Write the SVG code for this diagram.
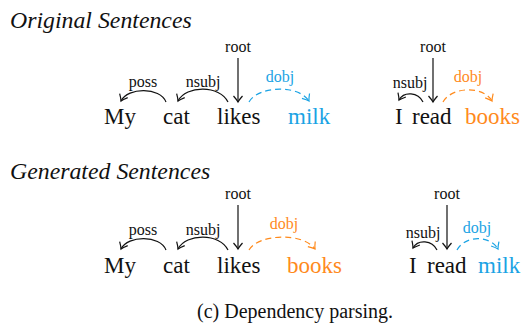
<svg xmlns="http://www.w3.org/2000/svg" width="522" height="327" viewBox="0 0 522 327" font-family="'Liberation Serif', 'DejaVu Serif', serif">
<style>
text{font-family:'Liberation Serif','DejaVu Serif',serif;}
.t{font-size:23.8px;font-style:italic;fill:#111}
.w{font-size:23px;fill:#111}
.l{font-size:16px;fill:#111;text-anchor:middle}
.cy{fill:#1aa3e4}
.or{fill:#ff8a1c}
.e{fill:none;stroke:#111;stroke-width:1.2}
.ec{fill:none;stroke:#1aa3e4;stroke-width:1.2;stroke-dasharray:6,4}
.eo{fill:none;stroke:#ff8a1c;stroke-width:1.2;stroke-dasharray:6,4}
</style>
<defs>
<marker id="ak" markerUnits="userSpaceOnUse" viewBox="-8 -6 10 12" refX="0" refY="0" markerWidth="10" markerHeight="12" orient="auto" overflow="visible"><path d="M-6,-4.5 Q-2,-1 0,0 Q-2,1 -6,4.5" fill="none" stroke="#111" stroke-width="1.2"/></marker>
<marker id="ac" markerUnits="userSpaceOnUse" viewBox="-8 -6 10 12" refX="0" refY="0" markerWidth="10" markerHeight="12" orient="auto" overflow="visible"><path d="M-6,-4.5 Q-2,-1 0,0 Q-2,1 -6,4.5" fill="none" stroke="#1aa3e4" stroke-width="1.2"/></marker>
<marker id="ao" markerUnits="userSpaceOnUse" viewBox="-8 -6 10 12" refX="0" refY="0" markerWidth="10" markerHeight="12" orient="auto" overflow="visible"><path d="M-6,-4.5 Q-2,-1 0,0 Q-2,1 -6,4.5" fill="none" stroke="#ff8a1c" stroke-width="1.2"/></marker>
</defs>

<g id="titles">
<text class="t" x="10" y="28">Original Sentences</text>
<text class="t" x="10" y="179">Generated Sentences</text>
</g>

<g id="s1">
<text class="w" x="104" y="124">My</text>
<text class="w" x="163" y="124">cat</text>
<text class="w" x="217" y="124">likes</text>
<text class="w cy" x="288" y="124">milk</text>
<text class="l" x="238" y="52">root</text>
<text class="l" x="143" y="87">poss</text>
<text class="l" x="203" y="87">nsubj</text>
<text class="l cy" x="280" y="82">dobj</text>
</g>
<g id="s2">
<text class="w" x="395" y="124">I</text>
<text class="w" x="412" y="124">read</text>
<text class="w or" x="465" y="124">books</text>
<text class="l" x="433" y="52">root</text>
<text class="l" x="410" y="88">nsubj</text>
<text class="l or" x="468" y="82">dobj</text>
</g>
<g id="s3">
<text class="w" x="104" y="273">My</text>
<text class="w" x="163" y="273">cat</text>
<text class="w" x="217" y="273">likes</text>
<text class="w or" x="287" y="273">books</text>
<text class="l" x="238" y="199">root</text>
<text class="l" x="143" y="235">poss</text>
<text class="l" x="203" y="235">nsubj</text>
<text class="l or" x="284" y="229">dobj</text>
</g>
<g id="s4">
<text class="w" x="409" y="273">I</text>
<text class="w" x="427" y="273">read</text>
<text class="w cy" x="478" y="273">milk</text>
<text class="l" x="447" y="199">root</text>
<text class="l" x="423" y="238">nsubj</text>
<text class="l cy" x="477" y="233">dobj</text>
</g>

<g id="connectors">
<path class="e" d="M238,58 V102" marker-end="url(#ak)"/>
<path class="e" d="M166,102 C160,87 128,87 121,101" marker-end="url(#ak)"/>
<path class="e" d="M228,102 C220,85 186,85 178,101" marker-end="url(#ak)"/>
<path class="ec" d="M249,102 C258,86 298,84 309,101" marker-end="url(#ac)"/>

<path class="e" d="M433,58 V102" marker-end="url(#ak)"/>
<path class="e" d="M423,102 C418,92 404,91 399,100" marker-end="url(#ak)"/>
<path class="eo" d="M443,102 C452,86 484,86 492,101" marker-end="url(#ao)"/>

<path class="e" d="M238,205 V249" marker-end="url(#ak)"/>
<path class="e" d="M166,250 C160,235 128,235 121,249" marker-end="url(#ak)"/>
<path class="e" d="M228,250 C220,233 186,233 178,249" marker-end="url(#ak)"/>
<path class="eo" d="M249,250 C258,234 303,232 315,249" marker-end="url(#ao)"/>

<path class="e" d="M447,205 V249" marker-end="url(#ak)"/>
<path class="e" d="M437,250 C432,240 418,239 413,248" marker-end="url(#ak)"/>
<path class="ec" d="M457,250 C465,235 490,235 498,249" marker-end="url(#ac)"/>
</g>

<text id="caption" x="197" y="318" style="font-size:20px;fill:#111">(c) Dependency parsing.</text>
</svg>
